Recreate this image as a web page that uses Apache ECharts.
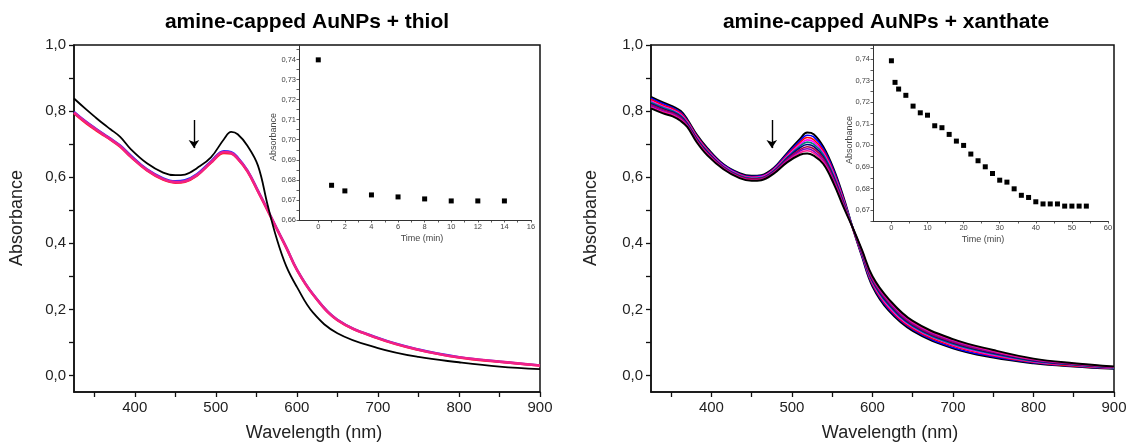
<!DOCTYPE html>
<html>
<head>
<meta charset="utf-8">
<script src="https://cdn.jsdelivr.net/npm/echarts@6/dist/echarts.min.js"></script>
<style>
html,body{margin:0;padding:0;background:#fff;}
#chart{width:1130px;height:442px;}
</style>
</head>
<body>
<div id="chart"></div>
<script>
// ---------- DATA ----------
const wavelengths = [325, 340, 352, 362, 370, 382, 395, 415, 435, 450, 462, 477, 494, 510, 519, 527, 539, 552, 564, 575, 587, 600, 620, 650, 700, 750, 800, 850, 900];

// Left panel (thiol)
const thiolT0   = [0.838, 0.805, 0.780, 0.760, 0.745, 0.722, 0.685, 0.642, 0.614, 0.606, 0.608, 0.628, 0.660, 0.715, 0.737, 0.730, 0.695, 0.635, 0.515, 0.415, 0.330, 0.268, 0.190, 0.128, 0.083, 0.056, 0.040, 0.027, 0.019];
const thiolBlue = [0.798, 0.768, 0.747, 0.730, 0.717, 0.696, 0.666, 0.624, 0.597, 0.588, 0.591, 0.610, 0.648, 0.679, 0.676, 0.660, 0.621, 0.560, 0.501, 0.446, 0.388, 0.321, 0.246, 0.169, 0.114, 0.079, 0.056, 0.042, 0.031];
const thiolRed  = [0.793, 0.763, 0.742, 0.726, 0.713, 0.692, 0.661, 0.620, 0.592, 0.583, 0.586, 0.605, 0.643, 0.673, 0.671, 0.655, 0.617, 0.556, 0.498, 0.444, 0.386, 0.319, 0.244, 0.167, 0.112, 0.077, 0.054, 0.041, 0.030];
const thiolPink = [0.796, 0.766, 0.745, 0.728, 0.715, 0.694, 0.663, 0.622, 0.594, 0.585, 0.588, 0.607, 0.645, 0.676, 0.673, 0.657, 0.619, 0.558, 0.500, 0.445, 0.387, 0.320, 0.245, 0.168, 0.113, 0.078, 0.055, 0.042, 0.030];

// Right panel (xanthate)
const xanT0  = [0.843, 0.826, 0.814, 0.800, 0.775, 0.728, 0.688, 0.639, 0.612, 0.604, 0.606, 0.627, 0.673, 0.716, 0.735, 0.730, 0.692, 0.624, 0.540, 0.450, 0.360, 0.270, 0.197, 0.135, 0.082, 0.054, 0.037, 0.027, 0.020];
const xanC1  = [0.839, 0.822, 0.810, 0.796, 0.772, 0.725, 0.685, 0.637, 0.610, 0.602, 0.604, 0.625, 0.670, 0.710, 0.727, 0.722, 0.686, 0.619, 0.536, 0.451, 0.362, 0.274, 0.201, 0.139, 0.085, 0.057, 0.039, 0.028, 0.021];
const xanC2  = [0.835, 0.818, 0.807, 0.793, 0.770, 0.723, 0.683, 0.635, 0.608, 0.600, 0.602, 0.623, 0.666, 0.705, 0.720, 0.714, 0.680, 0.613, 0.533, 0.449, 0.365, 0.277, 0.205, 0.142, 0.089, 0.060, 0.040, 0.029, 0.022];
const xanC3  = [0.831, 0.814, 0.803, 0.789, 0.767, 0.720, 0.680, 0.634, 0.607, 0.599, 0.601, 0.621, 0.663, 0.699, 0.713, 0.707, 0.674, 0.609, 0.530, 0.450, 0.367, 0.281, 0.209, 0.146, 0.092, 0.062, 0.042, 0.031, 0.022];
const xanC4  = [0.827, 0.811, 0.800, 0.786, 0.764, 0.717, 0.678, 0.632, 0.605, 0.597, 0.599, 0.619, 0.660, 0.694, 0.706, 0.700, 0.668, 0.604, 0.526, 0.452, 0.369, 0.284, 0.213, 0.149, 0.095, 0.065, 0.043, 0.032, 0.023];
const xanC5  = [0.823, 0.807, 0.797, 0.783, 0.762, 0.715, 0.676, 0.630, 0.603, 0.595, 0.597, 0.617, 0.657, 0.689, 0.699, 0.693, 0.662, 0.599, 0.523, 0.449, 0.371, 0.287, 0.217, 0.152, 0.098, 0.067, 0.045, 0.033, 0.024];
const xanC6  = [0.819, 0.804, 0.794, 0.780, 0.759, 0.712, 0.673, 0.629, 0.602, 0.594, 0.596, 0.615, 0.654, 0.683, 0.692, 0.686, 0.657, 0.594, 0.520, 0.450, 0.374, 0.290, 0.221, 0.155, 0.101, 0.070, 0.047, 0.034, 0.025];
const xanC7  = [0.816, 0.800, 0.791, 0.777, 0.757, 0.710, 0.671, 0.627, 0.600, 0.592, 0.594, 0.614, 0.651, 0.679, 0.686, 0.679, 0.651, 0.590, 0.517, 0.451, 0.376, 0.293, 0.224, 0.158, 0.104, 0.072, 0.048, 0.035, 0.025];
const xanC8  = [0.812, 0.797, 0.788, 0.774, 0.755, 0.708, 0.669, 0.626, 0.599, 0.591, 0.593, 0.612, 0.648, 0.674, 0.680, 0.673, 0.646, 0.585, 0.514, 0.450, 0.378, 0.296, 0.228, 0.161, 0.107, 0.074, 0.049, 0.036, 0.026];
const xanEnd = [0.808, 0.793, 0.784, 0.770, 0.752, 0.705, 0.666, 0.624, 0.597, 0.589, 0.591, 0.610, 0.645, 0.668, 0.672, 0.665, 0.640, 0.580, 0.510, 0.450, 0.380, 0.300, 0.232, 0.165, 0.110, 0.077, 0.051, 0.037, 0.027];

// Insets: absorbance at the plasmon peak vs time
const thiolTime = [0, 1, 2, 4, 6, 8, 10, 12, 14];
const thiolAbs  = [0.7398, 0.6773, 0.6745, 0.6725, 0.6715, 0.6705, 0.6695, 0.6695, 0.6695];
const xanTime = [0, 1, 2, 4, 6, 8, 10, 12, 14, 16, 18, 20, 22, 24, 26, 28, 30, 32, 34, 36, 38, 40, 42, 44, 46, 48, 50, 52, 54];
const xanAbs  = [0.7392, 0.7292, 0.7261, 0.7232, 0.7182, 0.7151, 0.7140, 0.7091, 0.7082, 0.7051, 0.7020, 0.7000, 0.6960, 0.6929, 0.6901, 0.6870, 0.6839, 0.6830, 0.6799, 0.6769, 0.6759, 0.6739, 0.6729, 0.6729, 0.6729, 0.6719, 0.6719, 0.6719, 0.6719];

// Tick labels / tick positions
const mainXLabels = [400, 500, 600, 700, 800, 900];
const mainXTicks  = [350, 400, 450, 500, 550, 600, 650, 700, 750, 800, 850, 900];
const mainYLabels = [0, 0.2, 0.4, 0.6, 0.8, 1.0];
const mainYTicks  = [0, 0.1, 0.2, 0.3, 0.4, 0.5, 0.6, 0.7, 0.8, 0.9, 1.0];
const thiolInsetXLabels = [0, 2, 4, 6, 8, 10, 12, 14, 16];
const thiolInsetXTicks  = [0, 1, 2, 3, 4, 5, 6, 7, 8, 9, 10, 11, 12, 13, 14, 15, 16];
const thiolInsetYLabels = [0.66, 0.67, 0.68, 0.69, 0.70, 0.71, 0.72, 0.73, 0.74];
const thiolInsetYTicks  = [0.66, 0.665, 0.67, 0.675, 0.68, 0.685, 0.69, 0.695, 0.70, 0.705, 0.71, 0.715, 0.72, 0.725, 0.73, 0.735, 0.74, 0.745];
const xanInsetXLabels = [0, 10, 20, 30, 40, 50, 60];
const xanInsetXTicks  = [0, 5, 10, 15, 20, 25, 30, 35, 40, 45, 50, 55, 60];
const xanInsetYLabels = [0.67, 0.68, 0.69, 0.70, 0.71, 0.72, 0.73, 0.74];
const xanInsetYTicks  = [0.665, 0.67, 0.675, 0.68, 0.685, 0.69, 0.695, 0.70, 0.705, 0.71, 0.715, 0.72, 0.725, 0.73, 0.735, 0.74, 0.745];

const titles = ['amine-capped AuNPs + thiol', 'amine-capped AuNPs + xanthate'];

// ---------- CHART ----------
const FONT = '"Liberation Sans", Arial, Helvetica, sans-serif';
const pairs = (xs, ys) => xs.map((x, i) => [x, ys[i]]);
const comma = (v, d) => v.toFixed(d).replace('.', ',');

function mainX(gi) {
  return {
    type: 'value', gridIndex: gi, min: 325, max: 900,
    axisLine: { show: true, onZero: false, lineStyle: { color: '#111', width: 1.5 } },
    axisTick: { show: true, inside: false, length: 5, customValues: mainXTicks, lineStyle: { color: '#111', width: 1.3 } },
    axisLabel: { show: true, customValues: mainXLabels, margin: 8, fontSize: 15, color: '#222', fontFamily: FONT },
    splitLine: { show: false }
  };
}
function mainY(gi) {
  return {
    type: 'value', gridIndex: gi, min: -0.05, max: 1.0,
    axisLine: { show: true, onZero: false, lineStyle: { color: '#111', width: 1.5 } },
    axisTick: { show: true, inside: false, length: 5, customValues: mainYTicks, lineStyle: { color: '#111', width: 1.3 } },
    axisLabel: { show: true, customValues: mainYLabels, margin: 8, fontSize: 15, color: '#222', fontFamily: FONT,
                 formatter: v => comma(v, 1) },
    splitLine: { show: false }
  };
}
function insetX(gi, min, max, labels, ticks) {
  return {
    type: 'value', gridIndex: gi, min: min, max: max,
    axisLine: { show: true, onZero: false, lineStyle: { color: '#333', width: 1 } },
    axisTick: { show: true, inside: false, length: 2.5, customValues: ticks, lineStyle: { color: '#333', width: 0.8 } },
    axisLabel: { show: true, customValues: labels, margin: 3, fontSize: 7.5, color: '#444', fontFamily: FONT },
    splitLine: { show: false }
  };
}
function insetY(gi, min, max, labels, ticks) {
  return {
    type: 'value', gridIndex: gi, min: min, max: max,
    axisLine: { show: true, onZero: false, lineStyle: { color: '#333', width: 1 } },
    axisTick: { show: true, inside: false, length: 2.5, customValues: ticks, lineStyle: { color: '#333', width: 0.8 } },
    axisLabel: { show: true, customValues: labels, margin: 3, fontSize: 7.5, color: '#444', fontFamily: FONT,
                 formatter: v => comma(v, 2) },
    splitLine: { show: false }
  };
}
function line(name, xi, ys, color, width, z) {
  return {
    name: name, type: 'line', xAxisIndex: xi, yAxisIndex: xi,
    data: pairs(wavelengths, ys), showSymbol: false, symbol: 'none',
    smooth: 0.4,
    lineStyle: { color: color, width: width }, z: z || 2, silent: true
  };
}
function arrow(lam) {
  return {
    silent: true, symbol: ['none', 'arrow'], symbolSize: 8, animation: false,
    label: { show: false },
    lineStyle: { color: '#000', width: 1.4, type: 'solid' },
    data: [[{ coord: [lam, 0.773] }, { coord: [lam, 0.688] }]]
  };
}

const leftBlack = line('thiol t0', 0, thiolT0, '#000000', 1.8, 5);
leftBlack.markLine = arrow(473);
const rightT0 = line('xanthate t0', 2, xanT0, '#000000', 2, 3);
rightT0.markLine = arrow(475);

const option = {
  animation: false,
  backgroundColor: '#ffffff',
  grid: [
    { left: 74, top: 45, width: 466, height: 347, show: true, borderColor: '#111', borderWidth: 1.5, backgroundColor: 'transparent' },
    { left: 299, top: 45, width: 232, height: 175, show: false },
    { left: 651, top: 45, width: 463, height: 347, show: true, borderColor: '#111', borderWidth: 1.5, backgroundColor: 'transparent' },
    { left: 873, top: 45, width: 235, height: 176, show: false }
  ],
  xAxis: [
    mainX(0),
    insetX(1, -1.45, 16, thiolInsetXLabels, thiolInsetXTicks),
    mainX(2),
    insetX(3, -5.1, 60, xanInsetXLabels, xanInsetXTicks)
  ],
  yAxis: [
    mainY(0),
    insetY(1, 0.66, 0.7472, thiolInsetYLabels, thiolInsetYTicks),
    mainY(2),
    insetY(3, 0.665, 0.7465, xanInsetYLabels, xanInsetYTicks)
  ],
  series: [
    leftBlack,
    line('thiol blue', 0, thiolBlue, '#2a2aff', 2.2, 2),
    line('thiol red', 0, thiolRed, '#ff2020', 2.2, 3),
    line('thiol pink', 0, thiolPink, '#f0208a', 2.6, 4),
    {
      name: 'thiol kinetics', type: 'scatter', xAxisIndex: 1, yAxisIndex: 1,
      data: pairs(thiolTime, thiolAbs), symbol: 'rect', symbolSize: 5,
      itemStyle: { color: '#000', opacity: 1 }, silent: true
    },
    rightT0,
    line('xan 1', 2, xanC1, '#0000ff', 1.6, 4),
    line('xan 2', 2, xanC2, '#ff0000', 1.6, 4),
    line('xan 3', 2, xanC3, '#ff00ff', 1.6, 4),
    line('xan 4', 2, xanC4, '#008080', 1.6, 4),
    line('xan 5', 2, xanC5, '#000080', 1.6, 4),
    line('xan 6', 2, xanC6, '#b00040', 1.6, 4),
    line('xan 7', 2, xanC7, '#8000c0', 1.6, 4),
    line('xan 8', 2, xanC8, '#ff1493', 1.6, 4),
    line('xanthate end', 2, xanEnd, '#000000', 2, 5),
    {
      name: 'xanthate kinetics', type: 'scatter', xAxisIndex: 3, yAxisIndex: 3,
      data: pairs(xanTime, xanAbs), symbol: 'rect', symbolSize: 5,
      itemStyle: { color: '#000', opacity: 1 }, silent: true
    }
  ],
  graphic: {
    elements: [
      { type: 'text', x: 307, y: 22, style: { text: titles[0], font: 'bold 21px ' + FONT, fill: '#000', textAlign: 'center', textVerticalAlign: 'middle', align: 'center', verticalAlign: 'middle' } },
      { type: 'text', x: 886, y: 22, style: { text: titles[1], font: 'bold 21px ' + FONT, fill: '#000', textAlign: 'center', textVerticalAlign: 'middle', align: 'center', verticalAlign: 'middle' } },
      { type: 'text', x: 17, y: 218, rotation: Math.PI / 2, style: { text: 'Absorbance', font: '18px ' + FONT, fill: '#222', textAlign: 'center', textVerticalAlign: 'middle', align: 'center', verticalAlign: 'middle' } },
      { type: 'text', x: 591, y: 218, rotation: Math.PI / 2, style: { text: 'Absorbance', font: '18px ' + FONT, fill: '#222', textAlign: 'center', textVerticalAlign: 'middle', align: 'center', verticalAlign: 'middle' } },
      { type: 'text', x: 314, y: 433, style: { text: 'Wavelength (nm)', font: '18px ' + FONT, fill: '#222', textAlign: 'center', textVerticalAlign: 'middle', align: 'center', verticalAlign: 'middle' } },
      { type: 'text', x: 890, y: 433, style: { text: 'Wavelength (nm)', font: '18px ' + FONT, fill: '#222', textAlign: 'center', textVerticalAlign: 'middle', align: 'center', verticalAlign: 'middle' } },
      { type: 'text', x: 422, y: 239, style: { text: 'Time (min)', font: '9px ' + FONT, fill: '#444', textAlign: 'center', textVerticalAlign: 'middle', align: 'center', verticalAlign: 'middle' } },
      { type: 'text', x: 983, y: 240, style: { text: 'Time (min)', font: '9px ' + FONT, fill: '#444', textAlign: 'center', textVerticalAlign: 'middle', align: 'center', verticalAlign: 'middle' } },
      { type: 'text', x: 274, y: 137, rotation: Math.PI / 2, style: { text: 'Absorbance', font: '9px ' + FONT, fill: '#444', textAlign: 'center', textVerticalAlign: 'middle', align: 'center', verticalAlign: 'middle' } },
      { type: 'text', x: 850, y: 140, rotation: Math.PI / 2, style: { text: 'Absorbance', font: '9px ' + FONT, fill: '#444', textAlign: 'center', textVerticalAlign: 'middle', align: 'center', verticalAlign: 'middle' } }
    ]
  }
};

const chart = echarts.init(document.getElementById('chart'), null, { renderer: 'canvas' });
chart.setOption(option);
</script>
</body>
</html>
